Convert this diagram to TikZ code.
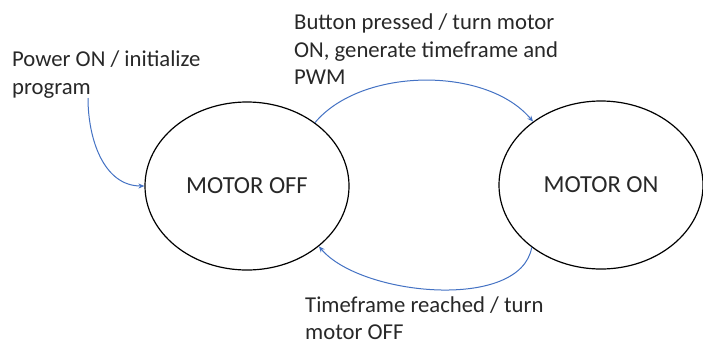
\documentclass[tikz,border=0pt]{standalone}
\usepackage{fontspec}
\setmainfont{Carlito}
\usetikzlibrary{shapes.geometric,arrows.meta}
\definecolor{arrowblue}{RGB}{68,114,196}
\definecolor{txt}{RGB}{40,40,40}
\tikzset{
  state/.style={ellipse,draw=black,line width=1.2pt,minimum width=204pt,minimum height=168pt,inner sep=0pt,font=\fontsize{24.5}{29}\selectfont,text=txt},
  lbl/.style={anchor=north west,align=left,inner sep=0pt,font=\fontsize{22.7}{27.5}\selectfont,text=txt},
  trans/.style={draw=arrowblue,line width=1pt,-{Stealth[length=6pt,width=5pt]}}
}
\begin{document}
\begin{tikzpicture}[x=1pt,y=-1pt]
\useasboundingbox[fill=white] (0,0) rectangle (703,346);
\node[state] (off) at (247,186) {MOTOR OFF};
\node[state] (on) at (601,185) {MOTOR ON};
\node[lbl] (l1) at (12,51) {Power ON / initialize\\program};
\node[lbl] (l2) at (294,14) {Button pressed / turn motor\\ON, generate timeframe and\\PWM};
\node[lbl,font=\fontsize{22.7}{27}\selectfont] (l3) at (305,297) {Timeframe reached / turn\\motor OFF};
\coordinate (p0) at (88,98);
\draw[trans] (p0) to[out=-90,in=180] (off.west);
\draw[trans] (off.43) to[out=50,in=130,looseness=0.85] (on.137);
\draw[trans] (on.222) to[out=-100,in=-50,looseness=0.78] (off.-40);
\end{tikzpicture}
\end{document}
